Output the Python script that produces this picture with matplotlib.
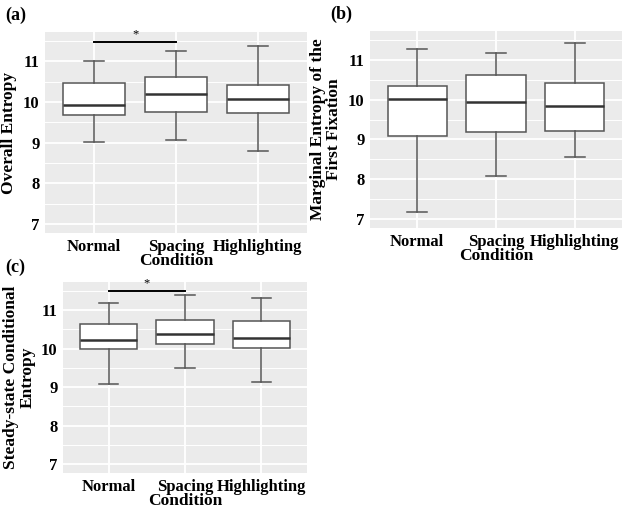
import matplotlib.pyplot as plt
from matplotlib.ticker import MultipleLocator

conditions = ["Normal", "Spacing", "Highlighting"]

# box stats per condition: lower whisker, q1, median, q3, upper whisker
overall_entropy = {
    "whislo": [9.02, 9.07, 8.79],
    "q1": [9.69, 9.76, 9.73],
    "med": [9.93, 10.21, 10.08],
    "q3": [10.47, 10.61, 10.43],
    "whishi": [11.00, 11.26, 11.38],
}
marginal_entropy = {
    "whislo": [7.17, 8.07, 8.55],
    "q1": [9.08, 9.19, 9.21],
    "med": [10.02, 9.93, 9.84],
    "q3": [10.34, 10.62, 10.42],
    "whishi": [11.28, 11.17, 11.42],
}
steady_entropy = {
    "whislo": [9.08, 9.49, 9.13],
    "q1": [9.99, 10.11, 10.02],
    "med": [10.22, 10.38, 10.27],
    "q3": [10.64, 10.73, 10.71],
    "whishi": [11.19, 11.39, 11.30],
}
sig_height = 11.49
sig_pair = (1, 2)

plt.rcParams['font.family'] = ['Liberation Serif', 'DejaVu Serif']
plt.rcParams['font.weight'] = 'bold'

W, H = 624, 518
fig = plt.figure(figsize=(W / 100, H / 100), dpi=100)


def add_axes(left, top, right, bottom):
    return fig.add_axes([left / W, 1 - bottom / H, (right - left) / W, (bottom - top) / H])


def draw_panel(ax, stats, ylabel, sig=False):
    ax.set_facecolor('#EBEBEB')
    for s in ax.spines.values():
        s.set_visible(False)
    ax.yaxis.set_major_locator(MultipleLocator(1))
    ax.yaxis.set_minor_locator(MultipleLocator(0.5))
    ax.grid(which='major', color='white', lw=1.3)
    ax.grid(which='minor', axis='y', color='white', lw=0.7)
    ax.set_axisbelow(True)
    ax.tick_params(which='both', length=0, labelsize=12, pad=4)

    bxp = []
    for i, c in enumerate(conditions):
        bxp.append({
            "label": c,
            "whislo": stats["whislo"][i], "q1": stats["q1"][i], "med": stats["med"][i],
            "q3": stats["q3"][i], "whishi": stats["whishi"][i], "fliers": [],
        })
    ax.bxp(bxp, positions=[1, 2, 3], widths=0.75, patch_artist=True,
           boxprops=dict(facecolor='white', edgecolor='#555555', lw=1.1),
           whiskerprops=dict(color='#555555', lw=1.1),
           capprops=dict(color='#555555', lw=1.1),
           medianprops=dict(color='#333333', lw=1.8),
           capwidths=0.25)
    ax.set_xlim(0.4, 3.6)
    ax.set_ylim(6.775, 11.725)
    ax.set_xticks([1, 2, 3])
    ax.set_xticklabels(conditions, fontsize=12, fontweight='bold')
    for lbl in ax.get_yticklabels():
        lbl.set_fontweight('bold')
    ax.set_xlabel("Condition", fontsize=12.5, fontweight='bold', labelpad=-1)
    ax.set_ylabel(ylabel, fontsize=12.5, fontweight='bold', linespacing=1.0)
    if sig:
        ax.plot(sig_pair, [sig_height, sig_height], color='black', lw=1.4)
        ax.text(sum(sig_pair) / 2, sig_height + 0.04, "*", ha='center', va='bottom',
                fontsize=9, fontweight='normal')


ax_a = add_axes(45, 32, 307, 233)
draw_panel(ax_a, overall_entropy, "Overall Entropy", sig=True)
ax_b = add_axes(370, 31, 622, 228)
draw_panel(ax_b, marginal_entropy, "Marginal Entropy of the\nFirst Fixation")
ax_c = add_axes(63, 282, 307, 473)
draw_panel(ax_c, steady_entropy, "Steady-state Conditional\nEntropy", sig=True)

fig.text(5 / W, 1 - 15 / H, "(a)", fontsize=13, fontweight='bold', va='center')
fig.text(330 / W, 1 - 14 / H, "(b)", fontsize=13, fontweight='bold', va='center')
fig.text(5 / W, 1 - 267 / H, "(c)", fontsize=13, fontweight='bold', va='center')

fig.savefig("out.png", dpi=100, facecolor='white')
